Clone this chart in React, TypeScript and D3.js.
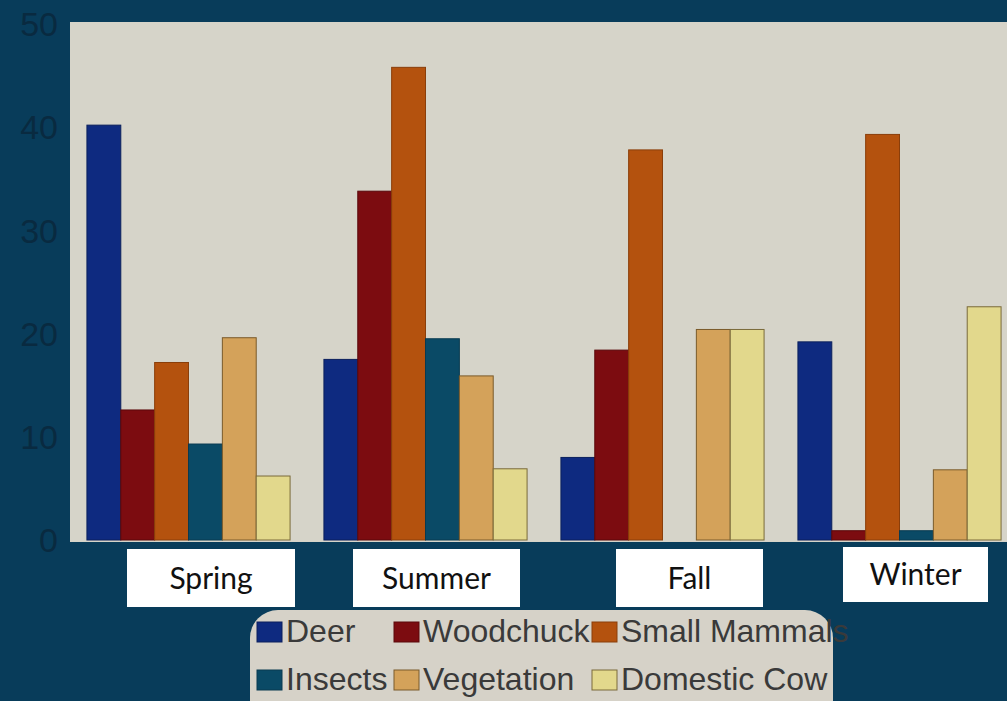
import { useRef, useEffect } from 'react';
import * as d3 from 'd3';

const seasons = ['Spring', 'Summer', 'Fall', 'Winter'];
const series = ['Deer', 'Woodchuck', 'Small Mammals', 'Insects', 'Vegetation', 'Domestic Cow'];
const colors = ['#0e2a80', '#7c0c10', '#b4520e', '#0a4a66', '#d4a25a', '#e2d88c'];
const strokes = ['#0a1f5c', '#5a080b', '#8a3e0a', '#083a50', '#7a5a2a', '#7a6a3a'];

// values per season, in series order
const deer = [40.2, 17.5, 8.0, 19.2];
const woodchuck = [12.6, 33.8, 18.4, 0.9];
const smallMammals = [17.2, 45.8, 37.8, 39.3];
const insects = [9.3, 19.5, 0, 0.9];
const vegetation = [19.6, 15.9, 20.4, 6.8];
const domesticCow = [6.2, 6.9, 20.4, 22.6];
const yTicks = [0, 10, 20, 30, 40, 50];

const W = 1007;
const H = 701;
const BG = '#083c5a';
const PLOT_BG = '#d6d4c9';

// white label boxes laid over the photo
const labelBoxes = [
  { x: 127, y: 549, w: 168, h: 58 },
  { x: 353, y: 549, w: 167, h: 58 },
  { x: 616, y: 549, w: 147, h: 58 },
  { x: 843, y: 547, w: 145, h: 55 },
];

// legend layout: swatch column x, row baseline y
const legendCols = [257, 394, 592];
const legendRows = [642, 690];

export default function App() {
  const svgRef = useRef<SVGSVGElement>(null);

  useEffect(() => {
    const svg = d3.select(svgRef.current);
    svg.selectAll('*').remove();

    const values = [deer, woodchuck, smallMammals, insects, vegetation, domesticCow];

    const x0 = d3.scaleBand().domain(seasons).range([70, 1018])
      .paddingInner(1 / 7).paddingOuter(1 / 14);
    const x1 = d3.scaleBand().domain(series).range([0, x0.bandwidth()]).padding(0);
    const y = d3.scaleLinear().domain([0, 50]).range([540, 24]);

    svg.append('rect').attr('width', W).attr('height', H).attr('fill', BG);

    // plot panel
    svg.append('rect')
      .attr('x', 70).attr('y', 22)
      .attr('width', W - 70).attr('height', y(0) - 22 + 2)
      .attr('fill', PLOT_BG);

    // y tick labels
    svg.append('g').selectAll('text').data(yTicks).join('text')
      .attr('x', 58).attr('y', d => y(d))
      .attr('dy', '0.36em')
      .attr('text-anchor', 'end')
      .attr('font-family', '"Liberation Sans", Arial, sans-serif')
      .attr('font-size', 34)
      .attr('fill', '#092a40')
      .text(d => d);

    // bars
    const groups = svg.append('g').selectAll('g').data(seasons).join('g')
      .attr('transform', s => `translate(${x0(s)},0)`);
    groups.selectAll('rect')
      .data((s, si) => series.map((k, i) => ({ key: k, i, v: values[i][si] })))
      .join('rect')
      .attr('x', d => x1(d.key)!)
      .attr('y', d => y(d.v))
      .attr('width', x1.bandwidth())
      .attr('height', d => y(0) - y(d.v))
      .attr('fill', d => colors[d.i])
      .attr('stroke', d => (d.v > 0 ? strokes[d.i] : 'none'))
      .attr('stroke-width', 1);

    // season labels
    const lab = svg.append('g').selectAll('g').data(seasons).join('g');
    lab.append('rect')
      .attr('x', (_, i) => labelBoxes[i].x).attr('y', (_, i) => labelBoxes[i].y)
      .attr('width', (_, i) => labelBoxes[i].w).attr('height', (_, i) => labelBoxes[i].h)
      .attr('fill', '#ffffff');
    lab.append('text')
      .attr('x', (_, i) => labelBoxes[i].x + labelBoxes[i].w / 2)
      .attr('y', (_, i) => labelBoxes[i].y + labelBoxes[i].h / 2)
      .attr('dy', '0.35em')
      .attr('text-anchor', 'middle')
      .attr('font-family', 'Lato, "Open Sans", sans-serif')
      .attr('font-size', 30)
      .attr('fill', '#111')
      .text(d => d);

    // legend
    svg.append('rect')
      .attr('x', 250).attr('y', 610)
      .attr('width', 583).attr('height', 130)
      .attr('rx', 28)
      .attr('fill', '#d6d2c8');
    const order = [0, 1, 2, 3, 4, 5];
    const items = svg.append('g').selectAll('g').data(order).join('g')
      .attr('transform', i => `translate(${legendCols[i % 3]},${legendRows[Math.floor(i / 3)]})`);
    items.append('rect')
      .attr('x', 0).attr('y', -20)
      .attr('width', 25).attr('height', 20)
      .attr('fill', i => colors[i])
      .attr('stroke', i => strokes[i]).attr('stroke-width', 1);
    items.append('text')
      .attr('x', 29).attr('y', 0)
      .attr('font-family', '"Liberation Sans", Arial, sans-serif')
      .attr('font-size', 32)
      .attr('fill', '#3a3a3a')
      .text(i => series[i]);
  }, []);

  return (
    <div style={{ position: 'absolute', left: 0, top: 0 }}>
      <svg ref={svgRef} width={W} height={H} style={{ display: 'block' }} />
    </div>
  );
}
